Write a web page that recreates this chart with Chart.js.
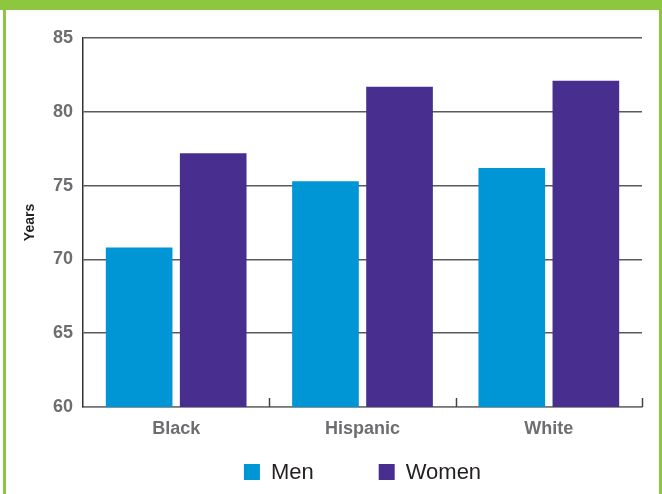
<!DOCTYPE html>
<html>
<head>
<meta charset="utf-8">
<script src="https://cdn.jsdelivr.net/npm/chart.js@4"></script>
<style>
  html, body { margin: 0; padding: 0; background: #fff; }
  #wrap { position: relative; width: 662px; height: 494px; }
</style>
</head>
<body>
<div id="wrap"><canvas id="myChart"></canvas></div>
<script>
// Data
const groups = ['Black', 'Hispanic', 'White'];
const men = [70.8, 75.3, 76.2];
const women = [77.2, 81.7, 82.1];
const seriesNames = ['Men', 'Women'];
const yTicks = [60, 65, 70, 75, 80, 85];

const FONT = "'Liberation Sans', Arial, Helvetica, sans-serif";
const GREEN = '#8dc63f';
const BLUE = '#0095d4';
const PURPLE = '#482e8f';

// green frame behind the chart
const frame = {
    id: 'frame',
    beforeDraw: (chart) => {
        const { ctx, width, height } = chart;
        ctx.save();
        ctx.fillStyle = '#fff';
        ctx.fillRect(0, 0, width, height);
        ctx.fillStyle = GREEN;
        ctx.fillRect(0, 0, width, 10);
        ctx.fillRect(3, 0, 3, height);
        ctx.fillRect(659, 0, 3, height);
        ctx.restore();
    }
};

// short upward ticks between the categories
const catTicks = {
    id: 'catTicks',
    afterDatasetsDraw: (chart) => {
        const { ctx, chartArea } = chart;
        const step = (chartArea.right - chartArea.left) / groups.length;
        ctx.save();
        ctx.strokeStyle = '#444';
        ctx.lineWidth = 1.5;
        for (let i = 1; i <= groups.length; i++) {
            const x = Math.round(chartArea.left + step * i) + 0.5;
            ctx.beginPath();
            ctx.moveTo(x, chartArea.bottom);
            ctx.lineTo(x, chartArea.bottom - 9);
            ctx.stroke();
        }
        ctx.restore();
    }
};

// legend under the plot, centred on the plot area
const bottomLegend = {
    id: 'bottomLegend',
    afterDraw: (chart) => {
        const { ctx, chartArea } = chart;
        const box = 16, gap = 11, spacing = 65, y = 472;
        ctx.save();
        ctx.font = '22px ' + FONT;
        ctx.textBaseline = 'middle';
        const items = chart.data.datasets.map(ds => ({
            label: ds.label, color: ds.backgroundColor, w: ctx.measureText(ds.label).width
        }));
        let total = 0;
        items.forEach((it, i) => { total += box + gap + it.w + (i ? spacing : 0); });
        let x = (chartArea.left + chartArea.right) / 2 - total / 2;
        items.forEach((it) => {
            ctx.fillStyle = it.color;
            ctx.fillRect(x, y - box / 2, box, box);
            ctx.fillStyle = '#231f20';
            ctx.fillText(it.label, x + box + gap, y + 1);
            x += box + gap + it.w + spacing;
        });
        ctx.restore();
    }
};

const ctx = document.getElementById('myChart');
const myChart = new Chart(ctx, {
    type: 'bar',
    data: {
        labels: groups,
        datasets: [
            { label: seriesNames[0], data: men, backgroundColor: BLUE },
            { label: seriesNames[1], data: women, backgroundColor: PURPLE }
        ]
    },
    options: {
        responsive: true,
        maintainAspectRatio: false,
        animation: false,
        layout: { padding: { top: 38, right: 20, bottom: 45, left: 0 } },
        datasets: {
            bar: { categoryPercentage: 0.795, barPercentage: 0.9 }
        },
        plugins: {
            legend: { display: false },
            tooltip: { enabled: false }
        },
        scales: {
            x: {
                grid: { display: false },
                border: { display: true, color: '#777', width: 1.5 },
                ticks: {
                    color: '#6d6e71',
                    padding: 3,
                    font: { family: FONT, size: 18, weight: 'bold' }
                },
                afterFit: (scale) => { scale.height = 42; }
            },
            y: {
                min: yTicks[0],
                max: yTicks[yTicks.length - 1],
                afterBuildTicks: (scale) => { scale.ticks = yTicks.map(v => ({ value: v })); },
                grid: { color: '#5a5a5a', lineWidth: 1.5, drawTicks: false },
                border: { display: true, color: '#333', width: 1.5 },
                ticks: {
                    color: '#6d6e71',
                    padding: 10,
                    font: { family: FONT, size: 18, weight: 'bold' }
                },
                title: {
                    display: true,
                    text: 'Years',
                    color: '#231f20',
                    padding: { top: 22, bottom: 0 },
                    font: { family: FONT, size: 14, weight: 'bold' }
                },
                afterFit: (scale) => { scale.width = 83; }
            }
        }
    },
    plugins: [frame, catTicks, bottomLegend]
});
</script>
</body>
</html>
